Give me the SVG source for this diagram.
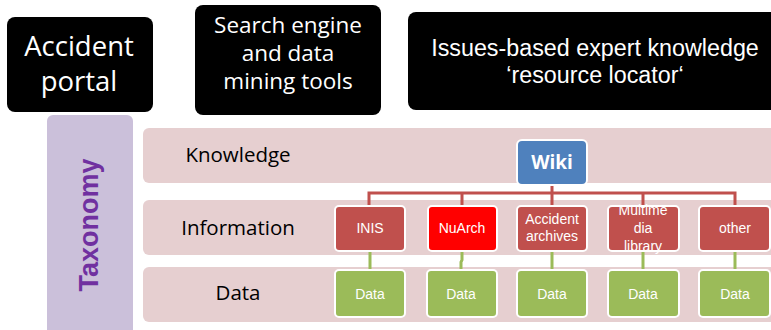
<svg xmlns="http://www.w3.org/2000/svg" width="771" height="330" viewBox="0 0 771 330">
  <style>
    text { font-family: "Open Sans", "Liberation Sans", sans-serif; }
    .head rect { fill: #000; }
    .head text { fill: #fff; font-size: 22.5px; text-anchor: middle; }
    .row { fill: #E6CFD0; }
    .rowlabel { fill: #000; font-size: 20.5px; text-anchor: middle; }
    .info rect { fill: #C0504D; stroke: #fff; stroke-width: 2; }
    .data rect { fill: #9BBB59; stroke: #fff; stroke-width: 2; }
    .info text, .data text { fill: #fff; text-anchor: middle; font-size: 14px; font-family: "Liberation Sans", sans-serif; }
    .red { stroke: #C0504D; stroke-width: 3; fill: none; }
    .green { stroke: #9BBB59; stroke-width: 3; fill: none; }
  </style>

  <rect width="771" height="330" fill="#fff"/>

  <!-- top headline boxes -->
  <g id="accident-portal" class="head">
    <rect x="7" y="17" width="146" height="95" rx="8"/>
    <text x="79" y="56" style="font-size:27.5px">Accident</text>
    <text x="79" y="91" style="font-size:27.5px">portal</text>
  </g>
  <g id="search-engine" class="head">
    <rect x="195" y="5" width="186" height="110" rx="8"/>
    <text x="288" y="33">Search engine</text>
    <text x="288" y="61">and data</text>
    <text x="288" y="89">mining tools</text>
  </g>
  <g id="resource-locator" class="head">
    <rect x="408" y="12" width="380" height="98" rx="8"/>
    <text x="595" y="56" style="font-size:23.3px;font-family:'Liberation Sans', sans-serif">Issues-based expert knowledge</text>
    <text x="595" y="83" style="font-size:23.3px;font-family:'Liberation Sans', sans-serif">‘resource locator‘</text>
  </g>

  <!-- taxonomy column -->
  <g id="taxonomy">
    <rect x="47" y="115" width="86" height="230" rx="6" fill="#CBC0DA"/>
    <text transform="translate(98 225) rotate(-90)" text-anchor="middle" font-size="27" font-weight="bold" fill="#7030A0" style="font-family:'Liberation Sans', sans-serif">Taxonomy</text>
  </g>

  <!-- layer bands -->
  <g id="layer-knowledge">
    <rect class="row" x="143" y="128" width="640" height="55" rx="6"/>
    <text class="rowlabel" x="238" y="162">Knowledge</text>
  </g>
  <g id="layer-information">
    <rect class="row" x="143" y="200" width="640" height="55" rx="6"/>
    <text class="rowlabel" x="238" y="235">Information</text>
  </g>
  <g id="layer-data">
    <rect class="row" x="143" y="267" width="640" height="55" rx="6"/>
    <text class="rowlabel" x="238" y="300">Data</text>
  </g>

  <!-- connectors -->
  <g id="connectors">
    <path class="red" d="M552 185 V193 M369 206 V193 H735 V206 M462 193 V206 M552 193 V206 M643 193 V206"/>
    <path class="green" d="M370 251 V270 M462 251 V260 L461 262 V270 M552 251 V270 M643 251 V270 M735 251 V270"/>
  </g>

  <!-- wiki -->
  <g id="wiki">
    <rect x="517" y="140" width="70" height="45" rx="5" fill="#4F81BD" stroke="#fff" stroke-width="2"/>
    <text x="552" y="169" text-anchor="middle" font-size="19" font-weight="bold" fill="#fff">Wiki</text>
  </g>

  <!-- information sources -->
  <g id="inis" class="info">
    <rect x="335" y="206" width="70" height="45" rx="4"/>
    <text x="370" y="233">INIS</text>
  </g>
  <g id="nuarch" class="info">
    <rect x="428" y="206" width="69" height="45" rx="4" style="fill:#FF0000"/>
    <text x="462" y="233">NuArch</text>
  </g>
  <g id="accident-archives" class="info">
    <rect x="517" y="206" width="70" height="45" rx="4"/>
    <text x="552" y="224">Accident</text>
    <text x="552" y="241">archives</text>
  </g>
  <g id="multimedia-library" class="info">
    <rect x="608" y="206" width="71" height="45" rx="4"/>
    <text x="643" y="215">Multime</text>
    <text x="643" y="233">dia</text>
    <text x="643" y="251">library</text>
  </g>
  <g id="other" class="info">
    <rect x="699" y="206" width="71" height="45" rx="4"/>
    <text x="735" y="233">other</text>
  </g>

  <!-- data sources -->
  <g id="data-1" class="data">
    <rect x="335" y="270" width="70" height="47" rx="4"/>
    <text x="370" y="299">Data</text>
  </g>
  <g id="data-2" class="data">
    <rect x="427" y="270" width="70" height="47" rx="4"/>
    <text x="461" y="299">Data</text>
  </g>
  <g id="data-3" class="data">
    <rect x="517" y="270" width="70" height="47" rx="4"/>
    <text x="552" y="299">Data</text>
  </g>
  <g id="data-4" class="data">
    <rect x="608" y="270" width="71" height="47" rx="4"/>
    <text x="643" y="299">Data</text>
  </g>
  <g id="data-5" class="data">
    <rect x="699" y="270" width="71" height="47" rx="4"/>
    <text x="735" y="299">Data</text>
  </g>
</svg>
